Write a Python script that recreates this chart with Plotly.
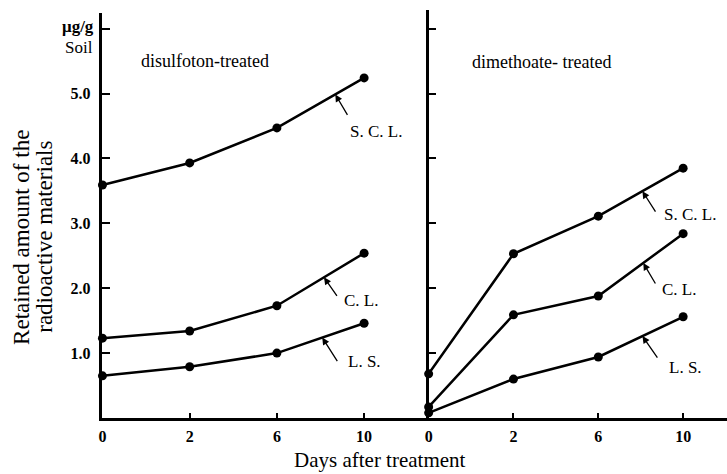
import plotly.graph_objects as go

# ---- data ----
day_labels = ["0", "2", "6", "10"]
day_pos = [0, 1, 2, 3]

disulfoton_scl = [3.59, 3.93, 4.47, 5.24]
disulfoton_cl = [1.23, 1.34, 1.73, 2.54]
disulfoton_ls = [0.65, 0.79, 1.00, 1.46]

dimethoate_scl = [0.68, 2.53, 3.11, 3.85]
dimethoate_cl = [0.17, 1.59, 1.88, 2.84]
dimethoate_ls = [0.08, 0.60, 0.94, 1.56]

y_tick_vals = [1, 2, 3, 4, 5, 6]
y_tick_text = ["1.0", "2.0", "3.0", "4.0", "5.0", ""]

W, H = 727, 474
SERIF = "Liberation Serif"

fig = go.Figure()

series = [
    ("x", "y", disulfoton_scl, "S. C. L."),
    ("x", "y", disulfoton_cl, "C. L."),
    ("x", "y", disulfoton_ls, "L. S."),
    ("x2", "y2", dimethoate_scl, "S. C. L."),
    ("x2", "y2", dimethoate_cl, "C. L."),
    ("x2", "y2", dimethoate_ls, "L. S."),
]
for xa, ya, vals, name in series:
    fig.add_trace(go.Scatter(
        x=day_pos, y=vals, xaxis=xa, yaxis=ya, mode="lines+markers",
        line=dict(color="black", width=2.5),
        marker=dict(color="black", size=9),
        cliponaxis=False, showlegend=False, name=name))

# pointer labels: (xaxis, yaxis, values, label, fraction along 6->10 segment, ax, ay, xshift, yshift)
pointers = [
    ("x", "y", disulfoton_scl, "S. C. L.", 0.67, 13, 22, 13, -37),
    ("x", "y", disulfoton_cl, "C. L.", 0.54, 14, 20, 18, -23),
    ("x", "y", disulfoton_ls, "L. S.", 0.52, 16, 25, 24, -24),
    ("x2", "y2", dimethoate_scl, "S. C. L.", 0.52, 14, 22, 20, -23),
    ("x2", "y2", dimethoate_cl, "C. L.", 0.53, 13, 22, 17, -27),
    ("x2", "y2", dimethoate_ls, "L. S.", 0.52, 16, 23, 25, -31),
]
annotations = []
for xa, ya, vals, label, f, ax, ay, xs, ys in pointers:
    tx = day_pos[2] + f * (day_pos[3] - day_pos[2])
    ty = vals[2] + f * (vals[3] - vals[2])
    annotations.append(dict(x=tx, y=ty, xref=xa, yref=ya, text="", showarrow=True,
                            ax=ax, ay=ay, axref="pixel", ayref="pixel",
                            arrowhead=2, arrowsize=1.1, arrowwidth=1.3,
                            arrowcolor="black", standoff=0, startstandoff=0))
    annotations.append(dict(x=tx, y=ty, xref=xa, yref=ya, text=label, showarrow=False,
                            xanchor="left", yanchor="middle", xshift=xs, yshift=ys,
                            font=dict(family=SERIF, size=17, color="black")))

def px(x):
    return x / W

def py(y):
    return 1 - y / H

annotations += [
    dict(x=px(93), y=py(26), xref="paper", yref="paper", text="μg/g", showarrow=False,
         xanchor="right", yanchor="middle", font=dict(family=SERIF, size=17, color="black", weight="bold")),
    dict(x=px(92), y=py(47), xref="paper", yref="paper", text="Soil", showarrow=False,
         xanchor="right", yanchor="middle", font=dict(family=SERIF, size=17, color="black")),
    dict(x=px(202), y=py(61), xref="paper", yref="paper", text="disulfoton-treated", showarrow=False,
         xanchor="center", yanchor="middle", font=dict(family=SERIF, size=18, color="black")),
    dict(x=px(540), y=py(62), xref="paper", yref="paper", text="dimethoate- treated", showarrow=False,
         xanchor="center", yanchor="middle", font=dict(family=SERIF, size=18, color="black")),
    dict(x=px(17), y=py(237), xref="paper", yref="paper",
         text="Retained amount of the", showarrow=False,
         textangle=-90, xanchor="center", yanchor="middle",
         font=dict(family=SERIF, size=23, color="black")),
    dict(x=px(40), y=py(237), xref="paper", yref="paper",
         text="radioactive materials", showarrow=False,
         textangle=-90, xanchor="center", yanchor="middle",
         font=dict(family=SERIF, size=23, color="black")),
    dict(x=px(378), y=py(460), xref="paper", yref="paper", text="Days after treatment",
         showarrow=False, xanchor="center", yanchor="middle",
         font=dict(family=SERIF, size=21, color="black")),
]

common_x = dict(tickvals=day_pos, ticktext=day_labels, ticks="inside", ticklen=5,
                tickwidth=1.5, tickcolor="black", showline=True, linewidth=2.5,
                linecolor="black", showgrid=False, zeroline=False,
                ticklabelstandoff=2,
                tickfont=dict(family=SERIF, size=16, color="black", weight="bold"))
common_y = dict(tickvals=y_tick_vals, ticktext=y_tick_text, ticks="inside", ticklen=8,
                tickwidth=1.5, tickcolor="black", showline=True, linewidth=2.5,
                linecolor="black", showgrid=False, zeroline=False,
                ticklabelstandoff=6,
                tickfont=dict(family=SERIF, size=16, color="black", weight="bold"))

fig.update_layout(
    width=W, height=H, margin=dict(l=0, r=0, t=0, b=0),
    paper_bgcolor="white", plot_bgcolor="white",
    xaxis=dict(domain=[px(99), px(427)], range=[0, (427 - 99) / 87.7], anchor="y", **common_x),
    xaxis2=dict(domain=[px(427), 1], range=[0, (727 - 427) / 85.3], anchor="y2", **common_x),
    yaxis=dict(domain=[56 / H, (H - 13) / H], range=[0, 405 / 64.9], anchor="x", **common_y),
    yaxis2=dict(domain=[56 / H, (H - 10) / H], range=[0, 408 / 64.9], anchor="x2",
                showticklabels=False, **{k: v for k, v in common_y.items() if k not in ("ticktext",)}),
    annotations=annotations,
)

fig.write_html("out.html", config={"displayModeBar": False},
               post_script="document.body.style.margin='0';document.body.style.overflow='hidden';")
